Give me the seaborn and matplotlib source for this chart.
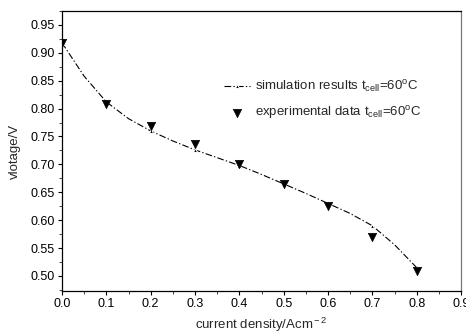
import matplotlib
matplotlib.use("Agg")
import matplotlib.pyplot as plt
import seaborn as sns
import pandas as pd
from matplotlib.ticker import MultipleLocator

sns.set_theme(style="ticks")
plt.rcParams['font.family'] = ['Liberation Sans', 'DejaVu Sans']
plt.rcParams['mathtext.fontset'] = 'custom'
plt.rcParams['mathtext.rm'] = 'Liberation Sans'
plt.rcParams['mathtext.it'] = 'Liberation Sans:italic'

# experimental data
exp_x = [0.0, 0.1, 0.2, 0.3, 0.4, 0.5, 0.6, 0.7, 0.8]
exp_y = [0.918, 0.808, 0.768, 0.736, 0.700, 0.665, 0.625, 0.570, 0.508]

# simulation curve
sim_x = [0.0, 0.05, 0.1, 0.15, 0.2, 0.25, 0.3, 0.35, 0.4, 0.45, 0.5, 0.55, 0.6, 0.65, 0.7, 0.75, 0.8]
sim_y = [0.918, 0.858, 0.812, 0.782, 0.760, 0.742, 0.726, 0.712, 0.698, 0.682, 0.665, 0.648, 0.630, 0.612, 0.590, 0.556, 0.515]

sim_df = pd.DataFrame({"x": sim_x, "y": sim_y})
exp_df = pd.DataFrame({"x": exp_x, "y": exp_y})

fig = plt.figure(figsize=(4.66, 3.34), dpi=100)
ax = fig.add_axes([62/466, 1-291/334, (461-62)/466, (291-11)/334])

sns.lineplot(data=sim_df, x="x", y="y", ax=ax, color="black", linestyle=(0, (6, 2, 1.2, 2)),
             lw=0.8, marker="^", markersize=3, markevery=2,
             label=r"simulation results t$_{\rm cell}$=60$^{\rm o}$C")
sns.scatterplot(data=exp_df, x="x", y="y", ax=ax, color="black", marker="v", s=36,
                edgecolor="black", linewidth=0.5, zorder=3,
                label=r"experimental data t$_{\rm cell}$=60$^{\rm o}$C")

ax.set_xlim(0, 0.9)
ax.set_ylim(0.473, 0.975)
ax.xaxis.set_major_locator(MultipleLocator(0.1))
ax.xaxis.set_minor_locator(MultipleLocator(0.05))
ax.yaxis.set_major_locator(MultipleLocator(0.05))
ax.yaxis.set_minor_locator(MultipleLocator(0.025))
ax.set_xticklabels([f"{v:.1f}" for v in ax.get_xticks()])
ax.set_yticks([0.50, 0.55, 0.60, 0.65, 0.70, 0.75, 0.80, 0.85, 0.90, 0.95])
ax.set_yticklabels([f"{v:.2f}" for v in ax.get_yticks()])
ax.tick_params(axis="both", which="major", direction="out", length=3, width=0.8,
               labelsize=9, pad=2, colors="black")
ax.tick_params(axis="both", which="minor", direction="out", length=2, width=0.6)
for s in ax.spines.values():
    s.set_visible(True)
    s.set_linewidth(0.9)
    s.set_color("black")
ax.spines["right"].set_color("#777777")

ax.set_xlabel(r"current density/Acm$^{\rm -2}$", fontsize=9.5, labelpad=4)
ax.set_ylabel("vlotage/V", fontsize=9.5, labelpad=7)

ax.legend(loc="upper left", bbox_to_anchor=(0.392, 0.776), frameon=False, fontsize=9.5,
          handlelength=2.0, handletextpad=0.4, labelspacing=0.7, borderaxespad=0)

fig.savefig("out.png", dpi=100)
